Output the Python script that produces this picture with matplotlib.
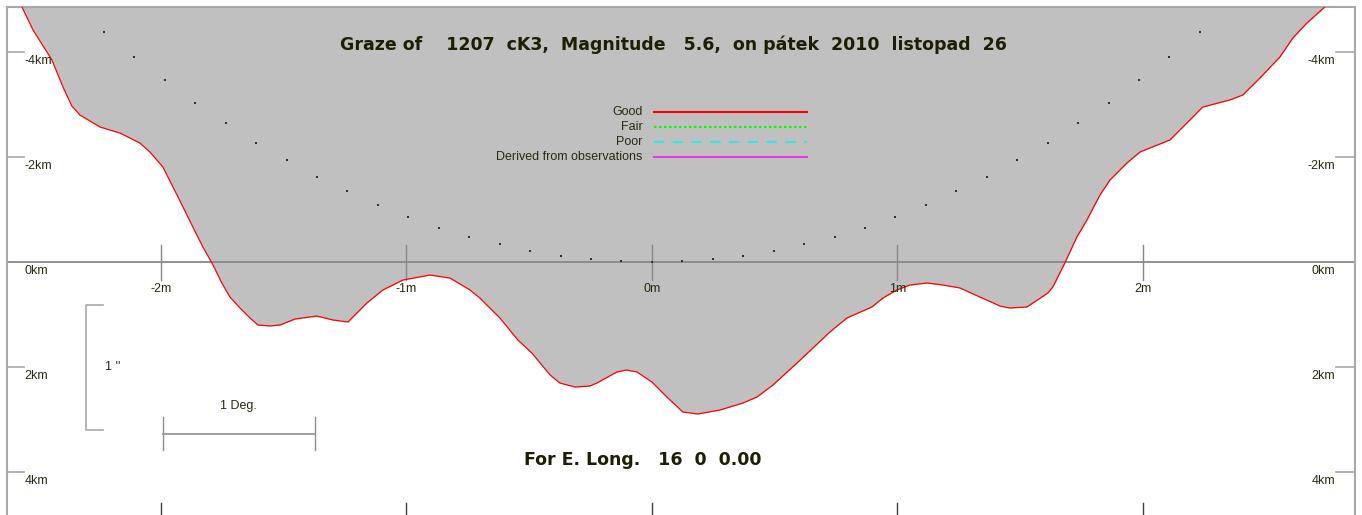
import matplotlib.pyplot as plt

plt.rcParams["font.family"] = ["Liberation Sans", "DejaVu Sans"]

# Lunar limb profile: minutes from central time vs. km from the predicted limit
profile_min = [-2.566, -2.521, -2.444, -2.399, -2.363, -2.330, -2.248, -2.167, -2.086, -2.045,
               -1.992, -1.951, -1.910, -1.870, -1.829, -1.792, -1.752, -1.719, -1.678, -1.637,
               -1.605, -1.556, -1.515, -1.454, -1.365,
               -1.299, -1.238, -1.161, -1.096, -1.014, -0.904, -0.823, -0.741, -0.701, -0.619,
               -0.546, -0.489, -0.415, -0.375, -0.314, -0.253, -0.224, -0.143, -0.102, -0.061,
               0.000, 0.061, 0.126, 0.187, 0.277, 0.371, 0.428, 0.493, 0.591, 0.656,
               0.725, 0.794, 0.896, 0.941, 0.998, 1.051, 1.120, 1.185, 1.255, 1.336,
               1.418, 1.458, 1.527, 1.552, 1.613, 1.633, 1.682, 1.731, 1.772, 1.825,
               1.866, 1.935, 1.988, 2.110, 2.163, 2.244, 2.354, 2.407, 2.477, 2.558,
               2.611, 2.668, 2.741]
profile_km = [-4.857, -4.419, -3.848, -3.333, -2.971, -2.800, -2.571, -2.457, -2.267, -2.095,
              -1.810, -1.429, -1.048, -0.667, -0.286, 0.019, 0.400, 0.667, 0.876, 1.067,
              1.200, 1.219, 1.200, 1.086, 1.029,
              1.105, 1.143, 0.781, 0.533, 0.343, 0.248, 0.305, 0.533, 0.686, 1.067,
              1.486, 1.733, 2.152, 2.305, 2.381, 2.362, 2.305, 2.095, 2.057, 2.095,
              2.286, 2.571, 2.857, 2.895, 2.819, 2.686, 2.571, 2.343, 1.924, 1.638,
              1.333, 1.067, 0.857, 0.686, 0.533, 0.438, 0.400, 0.438, 0.495, 0.667,
              0.838, 0.876, 0.857, 0.781, 0.590, 0.476, 0.019, -0.476, -0.800, -1.276,
              -1.562, -1.886, -2.095, -2.324, -2.571, -2.952, -3.086, -3.181, -3.505, -3.905,
              -4.267, -4.552, -4.857]

# Star track relative to the limb
track_min = [-2.232, -2.108, -1.984, -1.860, -1.736, -1.612, -1.488, -1.364, -1.240, -1.116,
             -0.992, -0.868, -0.744, -0.620, -0.496, -0.372, -0.248, -0.124, 0.000,
             0.124, 0.248, 0.372, 0.496, 0.620, 0.744, 0.868, 0.992, 1.116, 1.240,
             1.364, 1.488, 1.612, 1.736, 1.860, 1.984, 2.108, 2.232]
track_km = [-4.38, -3.90, -3.47, -3.03, -2.65, -2.27, -1.94, -1.62, -1.35, -1.09,
            -0.86, -0.65, -0.48, -0.34, -0.21, -0.11, -0.06, -0.02, 0.00,
            -0.02, -0.06, -0.11, -0.21, -0.34, -0.48, -0.65, -0.86, -1.09, -1.35,
            -1.62, -1.94, -2.27, -2.65, -3.03, -3.47, -3.90, -4.38]

km_ticks = [-4, -2, 0, 2, 4]
min_ticks = [-2, -1, 0, 1, 2]

legend_labels = ["Good", "Fair", "Poor", "Derived from observations"]
legend_colors = ["#ff0000", "#00ff00", "#33e6e6", "#e040e0"]
legend_dashes = [None, (1.2, 1.2), (5, 4), None]

title = "Graze of    1207  cK3,  Magnitude   5.6,  on pátek  2010  listopad  26"
footer = "For E. Long.   16  0  0.00"

TEXT = "#2a2a10"
HEAD = "#1e1e05"
FRAME = "#a8a8a8"
XMIN, XMAX = -2.627, 2.864
YTOP, YBOT = -4.857, 4.819

fig = plt.figure(figsize=(13.62, 5.15), dpi=100)
ax = fig.add_axes([7 / 1362, 0, 1348 / 1362, 508 / 515])
ax.set_xlim(XMIN, XMAX)
ax.set_ylim(YBOT, YTOP)
ax.set_xticks([])
ax.set_yticks([])
for side in ("top", "left", "right"):
    ax.spines[side].set_color(FRAME)
    ax.spines[side].set_linewidth(1.5)
ax.spines["bottom"].set_visible(False)

# profile and the region occulted by the moon
ax.fill_between(profile_min, profile_km, YTOP, color="#c0c0c0", lw=0, zorder=1)
ax.plot(profile_min, profile_km, color="#ff0000", lw=0.9, zorder=3)

# central line and minute marks
ax.axhline(0, color="#888888", lw=1.3, zorder=2)
for m in min_ticks:
    ax.plot([m, m], [-0.33, 0.34], color="#888888", lw=1.0, zorder=2)
    ax.plot([m, m], [4.59, YBOT], color="#404040", lw=1.0, zorder=2)
    ax.text(m, 0.52, f"{m}m", ha="center", va="center", fontsize=9, color=TEXT, zorder=4)

# km scale on both sides
for k in km_ticks:
    if k != 0:
        ax.plot([XMIN, -2.558], [k, k], color=FRAME, lw=1.2, zorder=2)
        ax.plot([2.786, XMAX], [k, k], color=FRAME, lw=1.2, zorder=2)
    ax.text(-2.555, k + 0.17, f"{k}km", ha="left", va="center", fontsize=9, color=TEXT, zorder=4)
    ax.text(2.782, k + 0.17, f"{k}km", ha="right", va="center", fontsize=9, color=TEXT, zorder=4)

ax.scatter(track_min, track_km, s=2.5, marker="s", color="#303030", lw=0, zorder=4)

# legend
for i, (lab, col, dash) in enumerate(zip(legend_labels, legend_colors, legend_dashes)):
    y = -2.857 + 0.2857 * i
    line, = ax.plot([0.008, 0.631], [y, y], color=col, lw=1.5, zorder=4)
    if dash is not None:
        line.set_dashes(dash)
    ax.text(-0.037, y, lab, ha="right", va="center", fontsize=9, color=TEXT, zorder=4)

# scale bars
ax.plot([-2.236, -2.306, -2.306, -2.236], [0.819, 0.819, 3.2, 3.2], color=FRAME, lw=1.2)
ax.text(-2.228, 2.0, "1 ''", ha="left", va="center", fontsize=9, color=TEXT)
ax.plot([-1.992, -1.373], [3.276, 3.276], color="#909090", lw=1.2)
ax.plot([-1.992, -1.992], [2.952, 3.581], color="#909090", lw=1.0)
ax.plot([-1.373, -1.373], [2.952, 3.581], color="#909090", lw=1.0)
ax.text(-1.686, 2.743, "1 Deg.", ha="center", va="center", fontsize=9, color=TEXT)

ax.text(0.086, -4.133, title, ha="center", va="center", fontsize=12.5, fontweight="bold",
        family="DejaVu Sans", color=HEAD, zorder=4)
ax.text(-0.037, 3.771, footer, ha="center", va="center", fontsize=12.5, fontweight="bold",
        family="DejaVu Sans", color=HEAD, zorder=4)

fig.savefig("out.png", dpi=100)
